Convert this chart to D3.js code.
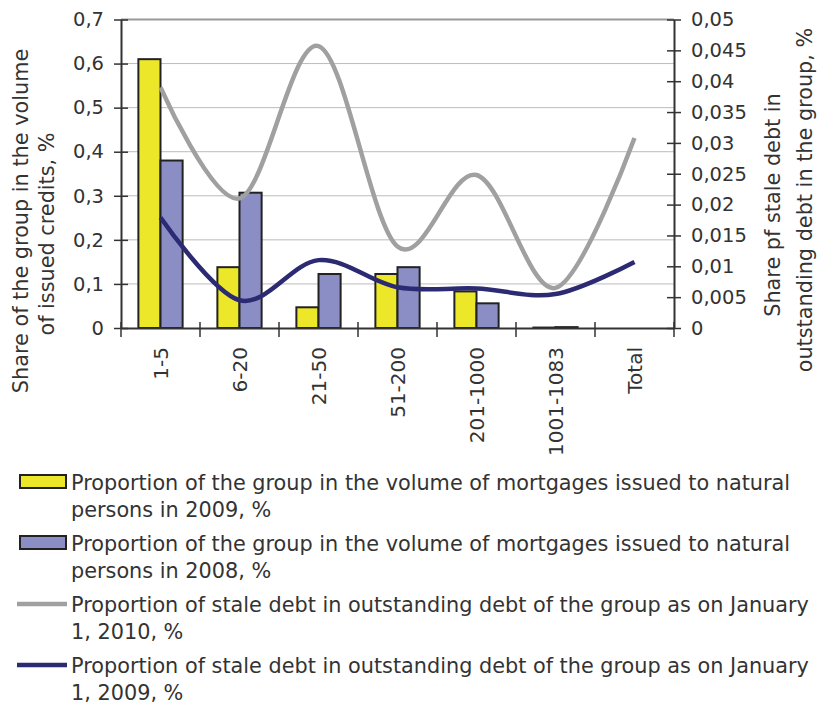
<html>
  <head>
    <meta charset="utf-8">
    <title>Mortgages and stale debt</title>
    <script src="https://cdnjs.cloudflare.com/ajax/libs/d3/7.8.5/d3.min.js"></script>
    <style>
      body { margin: 0; background: #fff; }
      text { font-family: "DejaVu Sans", sans-serif; fill: #333; }
    </style>
  </head>
  <body>
    <div id="chart"></div>
<script>
  // data
  const groups = ['1-5', '6-20', '21-50', '51-200', '201-1000', '1001-1083', 'Total'];
  const vol2009 = [0.61, 0.138, 0.047, 0.1225, 0.083, 0.001, null];
  const vol2008 = [0.38, 0.307, 0.1225, 0.138, 0.056, 0.002, null];
  const stale2010 = [0.039, 0.021, 0.0457, 0.0132, 0.0248, 0.0065, 0.0308];
  const stale2009 = [0.0179, 0.0045, 0.011, 0.0066, 0.0064, 0.0055, 0.0107];
  const leftTicks = [0, 0.1, 0.2, 0.3, 0.4, 0.5, 0.6, 0.7];
  const rightTicks = d3.range(0, 0.0501, 0.005);

  const legendItems = [
    { kind: 'bar', color: '#ECE829', lines: ['Proportion of the group in the volume of mortgages issued to natural', 'persons in 2009, %'] },
    { kind: 'bar', color: '#8B8EC5', lines: ['Proportion of the group in the volume of mortgages issued to natural', 'persons in 2008, %'] },
    { kind: 'line', color: '#A0A0A0', lines: ['Proportion of stale debt in outstanding debt of the group as on January', '1, 2010, %'] },
    { kind: 'line', color: '#2B2A73', lines: ['Proportion of stale debt in outstanding debt of the group as on January', '1, 2009, %'] }
  ];

  const W = 828, H = 710;
  const pLeft = 121, pRight = 674, pTop = 19.5, pBottom = 328;
  const fsTick = 19.5, fsCat = 20, fsText = 20.8;
  const comma = f => v => d3.format(f)(v).replace('.', ',');

  const svg = d3.select('#chart').append('svg')
    .attr('width', W).attr('height', H);

  const x = d3.scaleBand().domain(groups).range([pLeft, pRight]).paddingInner(0.44).paddingOuter(0.22);
  const xs = d3.scaleBand().domain(['y09', 'y08']).range([0, x.bandwidth()]);
  const yL = d3.scaleLinear().domain([0, 0.7]).range([pBottom, pTop]);
  const yR = d3.scaleLinear().domain([0, 0.05]).range([pBottom, pTop]);
  const cx = g => x(g) + x.bandwidth() / 2;

  // gridlines
  svg.append('g').selectAll('line')
    .data(leftTicks.slice(1))
    .join('line')
    .attr('x1', pLeft).attr('x2', pRight)
    .attr('y1', d => yL(d)).attr('y2', d => yL(d))
    .attr('stroke', d => d === 0.7 ? '#999' : '#bbb')
    .attr('stroke-width', d => d === 0.7 ? 2 : 1);

  // bars
  const barData = [];
  groups.forEach((g, i) => {
    if (vol2009[i] != null) barData.push({ g, k: 'y09', v: vol2009[i], c: legendItems[0].color });
    if (vol2008[i] != null) barData.push({ g, k: 'y08', v: vol2008[i], c: legendItems[1].color });
  });
  svg.append('g').selectAll('rect')
    .data(barData)
    .join('rect')
    .attr('x', d => x(d.g) + xs(d.k))
    .attr('y', d => yL(d.v))
    .attr('width', xs.bandwidth())
    .attr('height', d => pBottom - yL(d.v))
    .attr('fill', d => d.c)
    .attr('stroke', '#222')
    .attr('stroke-width', 2);

  // axes
  const axL = svg.append('g').attr('transform', `translate(${pLeft},0)`)
    .call(d3.axisLeft(yL).tickValues(leftTicks).tickFormat(comma('.1~f')).tickSizeInner(7).tickSizeOuter(0).tickPadding(10));
  const axR = svg.append('g').attr('transform', `translate(${pRight},0)`)
    .call(d3.axisRight(yR).tickValues(rightTicks).tickFormat(comma('.3~f')).tickSizeInner(7).tickSizeOuter(0).tickPadding(10));
  [axL, axR].forEach(a => {
    a.select('.domain').attr('stroke', '#333').attr('stroke-width', 2);
    a.selectAll('.tick line').attr('stroke', '#333').attr('stroke-width', 1.5);
    a.selectAll('.tick text').style('font-size', fsTick + 'px').style('font-family', '"DejaVu Sans"').attr('fill', '#333');
  });
  // ticks cross the axis
  axL.selectAll('.tick line').attr('x1', 7);
  axR.selectAll('.tick line').attr('x1', -7);

  const axB = svg.append('g').attr('transform', `translate(0,${pBottom})`)
    .call(d3.axisBottom(x).tickSize(0).tickPadding(0));
  axB.select('.domain').attr('stroke', '#333').attr('stroke-width', 2);
  axB.selectAll('.tick text')
    .style('font-size', fsCat + 'px')
    .style('font-family', '"DejaVu Sans"')
    .attr('fill', '#333')
    .attr('text-anchor', 'end')
    .attr('transform', 'rotate(-90)')
    .attr('x', -19).attr('y', 0).attr('dy', '0.35em');
  // category boundary ticks
  svg.append('g').selectAll('line')
    .data(d3.range(groups.length + 1))
    .join('line')
    .attr('x1', i => i < groups.length ? x(groups[i]) - x.step() * x.paddingInner() / 2 : pRight)
    .attr('x2', i => i < groups.length ? x(groups[i]) - x.step() * x.paddingInner() / 2 : pRight)
    .attr('y1', pBottom - 6).attr('y2', pBottom + 9)
    .attr('stroke', '#333').attr('stroke-width', 1.5);

  // lines
  const lineGen = yS => d3.line()
    .x((d, i) => cx(groups[i]))
    .y(d => yS(d))
    .curve(d3.curveCatmullRom.alpha(0));
  svg.append('path').datum(stale2010)
    .attr('d', lineGen(yR))
    .attr('fill', 'none').attr('stroke', legendItems[2].color).attr('stroke-width', 4.5);
  svg.append('path').datum(stale2009)
    .attr('d', lineGen(yR))
    .attr('fill', 'none').attr('stroke', legendItems[3].color).attr('stroke-width', 4.5);

  // axis titles, one text per line: [baseline x, centre y, text]
  const titles = [
    [28, 221, 'Share of the group in the volume'],
    [54, 234, 'of issued credits, %'],
    [780, 205, 'Share pf stale debt in'],
    [812, 200, 'outstanding debt in the group, %']
  ];
  svg.append('g').selectAll('text')
    .data(titles)
    .join('text')
    .attr('transform', d => `translate(${d[0]},${d[1]}) rotate(-90)`)
    .attr('text-anchor', 'middle')
    .style('font-size', fsText + 'px')
    .text(d => d[2]);

  // legend
  const lg = svg.append('g').selectAll('g')
    .data(legendItems)
    .join('g')
    .attr('transform', (d, i) => `translate(0,${490 + i * 61})`);
  lg.filter(d => d.kind === 'bar').append('rect')
    .attr('x', 20).attr('y', -15).attr('width', 46).attr('height', 13)
    .attr('fill', d => d.color).attr('stroke', '#222').attr('stroke-width', 2);
  lg.filter(d => d.kind === 'line').append('line')
    .attr('x1', 17).attr('x2', 67).attr('y1', -8).attr('y2', -8)
    .attr('stroke', d => d.color).attr('stroke-width', 4.5);
  lg.append('text')
    .style('font-size', fsText + 'px')
    .selectAll('tspan')
    .data(d => d.lines)
    .join('tspan')
    .attr('x', 71)
    .attr('y', (d, i) => i * 27)
    .text(d => d);
</script>
  </body>
</html>
